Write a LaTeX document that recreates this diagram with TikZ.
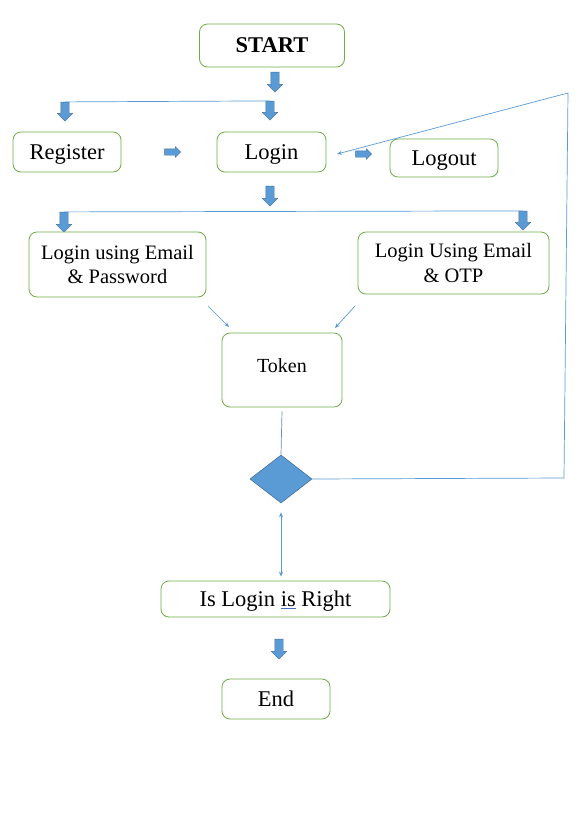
\documentclass[tikz,border=0pt]{standalone}
\usepackage{fontspec}
\setmainfont{Liberation Serif}
\usetikzlibrary{shapes.arrows,shapes.geometric,arrows.meta}
\definecolor{boxgreen}{HTML}{70AD47}
\definecolor{accblue}{HTML}{5B9BD5}
\definecolor{darkblue}{HTML}{41719C}
\definecolor{ulblue}{HTML}{4472C4}
\begin{document}
\begin{tikzpicture}[x=1pt,y=-1pt,
  box/.style={draw=boxgreen,line width=0.8pt,rounded corners=8pt,align=center,inner sep=0pt,
    font=\fontsize{22.5}{27}\selectfont},
  sbox/.style={box,text height=17pt,text depth=2.5pt},
  twoline/.style={font=\fontsize{20.5}{24.8}\selectfont},
  downarrow/.style={single arrow,fill=accblue,draw=darkblue,line width=0.4pt,inner sep=4pt,
    single arrow head extend=3.5pt,minimum width=15pt,rotate=-90},
  rightarrow/.style={single arrow,fill=accblue,draw=darkblue,line width=0.4pt,inner sep=3pt,
    single arrow head extend=2pt,minimum width=10pt,minimum height=16pt},
  thinline/.style={draw=accblue,line width=0.7pt},
  thinarrow/.style={thinline,-{Stealth[length=5pt,width=4pt]}},
]
\useasboundingbox (0,0) rectangle (586,839);
\fill[white] (0,0) rectangle (586,839);

% boxes
\node[sbox,minimum width=145pt,minimum height=43pt] (start) at (272,45.5) {\textbf{START}};
\node[sbox,minimum width=108pt,minimum height=40pt] (register) at (67,152) {Register};
\node[sbox,minimum width=109pt,minimum height=40pt] (login) at (271.5,152) {Login};
\node[sbox,minimum width=108pt,minimum height=38pt] (logout) at (444,158) {Logout};
\node[box,twoline,minimum width=177pt,minimum height=65pt] (emailpw) at (117.5,264.5) {Login using Email\\\& Password};
\node[box,twoline,minimum width=191pt,minimum height=62pt] (emailotp) at (453.5,263) {Login Using Email\\\& OTP};
\node[box,minimum width=120pt,minimum height=74pt] (token) at (282,370) {};
\node[font=\fontsize{20}{24}\selectfont] (tokentext) at (282,366) {Token};
\node[diamond,fill=accblue,draw=darkblue,line width=0.6pt,inner sep=0pt,minimum width=62pt,minimum height=48pt] (dia) at (281,479) {};
\node[sbox,minimum width=229pt,minimum height=36pt] (isright) at (275.5,599) {Is Login {\color{ulblue}\underline{\textcolor{black}{is}}} Right};
\node[sbox,minimum width=108pt,minimum height=40pt] (end) at (276,699) {End};

% block arrows
\node[downarrow,minimum height=20pt] (aStart) at (275,80) {};
\node[downarrow,minimum height=19pt] (aReg) at (65,109.5) {};
\node[downarrow,minimum height=19pt] (aLog) at (270,108.5) {};
\node[rightarrow] (aR1) at (171,152) {};
\node[rightarrow] (aR2) at (362,154) {};
\node[downarrow,minimum height=20pt] (aMid) at (270,194) {};
\node[downarrow,minimum height=20pt] (aPw) at (64,220) {};
\node[downarrow,minimum height=19pt] (aOtp) at (523,218.5) {};
\node[downarrow,minimum height=20pt] (aEnd) at (279,647) {};

% thin connectors
\draw[thinline] (aReg.tail) -- (aLog.tail);
\draw[thinline] (aPw.tail) -- (aOtp.tail);

\coordinate (pwfrom) at (208,306);
\coordinate (pwto) at (229,327);
\coordinate (otpfrom) at (355,306);
\coordinate (otpto) at (335,328);
\draw[thinarrow] (pwfrom) -- (pwto);
\draw[thinarrow] (otpfrom) -- (otpto);

\draw[draw=darkblue!80,line width=0.7pt] (token.south) ++(0,4) -- (dia.north);

\draw[thinline,{Stealth[length=5pt,width=4pt]}-{Stealth[length=5pt,width=4pt]},shorten <=9pt,shorten >=4pt] (dia.south) -- (dia.south |- isright.north);

\coordinate (loopA) at (564,478);
\coordinate (loopB) at (568,93);
\coordinate (loopEnd) at (337,154);
\draw[thinarrow] (dia.east) -- (loopA) -- (loopB) -- (loopEnd);
\end{tikzpicture}
\end{document}
